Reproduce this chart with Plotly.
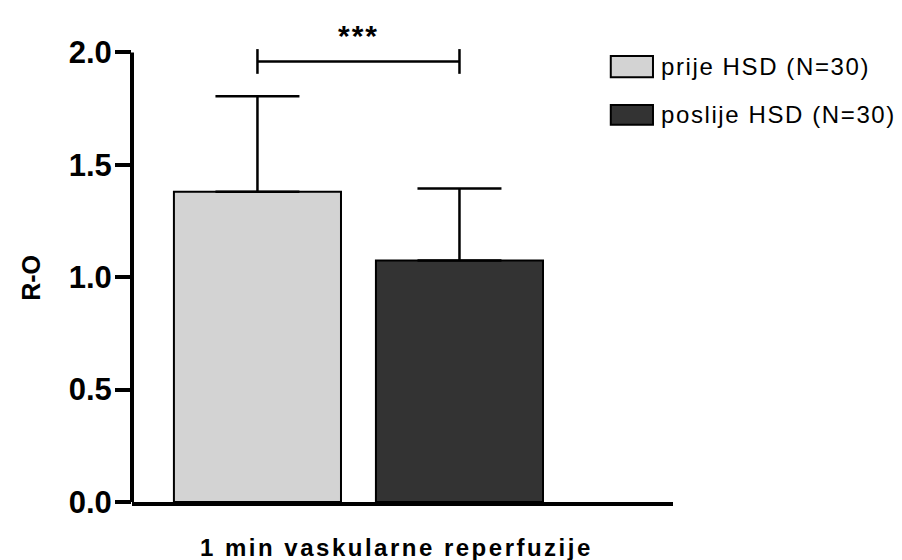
import plotly.graph_objects as go

# ---- data ----
groups = ["prije HSD (N=30)", "poslije HSD (N=30)"]
means = [1.38, 1.075]
sds = [0.425, 0.32]
colors = ["#d3d3d3", "#333333"]
x_label = "1 min vaskularne reperfuzije"
y_label = "R-O"
y_ticks = [0.0, 0.5, 1.0, 1.5, 2.0]
y_ticktext = ["0.0", "0.5", "1.0", "1.5", "2.0"]
sig_text = "***"
sig_y = 1.96

FONT = "Liberation Sans, Arial, sans-serif"
positions = list(range(len(groups)))

fig = go.Figure()
for i, (g, m, s, c) in enumerate(zip(groups, means, sds, colors)):
    fig.add_trace(go.Bar(
        x=[positions[i]], y=[m], name=g, width=0.827,
        marker=dict(color=c, line=dict(color="black", width=2)),
        error_y=dict(type="data", array=[s], arrayminus=[0], symmetric=False,
                     thickness=2.5, width=42, color="black"),
        showlegend=False,
    ))

# y axis line from 0 to top tick
fig.add_shape(type="line", xref="paper", yref="y", x0=0, x1=0, y0=0, y1=max(y_ticks),
              line=dict(color="black", width=4))

# significance bracket between the two bars
br = 0.055
fig.add_shape(type="line", xref="x", yref="y", x0=positions[0], x1=positions[1], y0=sig_y, y1=sig_y,
              line=dict(color="black", width=2.5))
for p in positions:
    fig.add_shape(type="line", xref="x", yref="y", x0=p, x1=p, y0=sig_y - br, y1=sig_y + br,
                  line=dict(color="black", width=2.5))
fig.add_annotation(x=(positions[0] + positions[1]) / 2, y=2.075, xref="x", yref="y",
                   text='<b><span style="letter-spacing:2px">' + sig_text + "</span></b>",
                   showarrow=False, xanchor="center", yanchor="middle",
                   font=dict(family=FONT, size=30, color="black"))

# custom legend
leg_rows = [(0.900, 0.945), (0.799, 0.841)]
for (y0, y1), g, c in zip(leg_rows, groups, colors):
    fig.add_shape(type="rect", xref="paper", yref="paper", x0=0.885, x1=0.963, y0=y0, y1=y1,
                  fillcolor=c, line=dict(color="black", width=2))
    fig.add_annotation(x=0.974, y=(y0 + y1) / 2, xref="paper", yref="paper", xanchor="left",
                       yanchor="middle", showarrow=False,
                       text='<span style="letter-spacing:1.6px">' + g + "</span>",
                       font=dict(family=FONT, size=24, color="black"))

# axis titles
fig.add_annotation(x=-0.187, y=(494 - 270) / 472, xref="paper", yref="paper", textangle=-90,
                   text="<b>" + y_label + "</b>", showarrow=False,
                   xanchor="center", yanchor="middle",
                   font=dict(family=FONT, size=25, color="black"))
fig.add_annotation(x=0.488, y=-0.097, xref="paper", yref="paper",
                   text='<b><span style="letter-spacing:2.5px">' + x_label + "</span></b>",
                   showarrow=False, xanchor="center", yanchor="middle",
                   font=dict(family=FONT, size=24, color="black"))

fig.update_layout(
    width=902, height=560,
    margin=dict(l=124, r=237, t=22, b=66),
    plot_bgcolor="white", paper_bgcolor="white",
    showlegend=False,
    xaxis=dict(range=[-0.621, 2.057], showticklabels=False, ticks="", showgrid=False,
               zeroline=False, showline=True, linecolor="black", linewidth=4),
    yaxis=dict(range=[0, 2.1], tickvals=y_ticks, ticktext=y_ticktext, ticks="outside",
               ticklen=16, tickwidth=3.5, tickcolor="black", showgrid=False, zeroline=False,
               showline=False, ticklabelstandoff=-3,
               tickfont=dict(family=FONT, size=31, color="black", weight="bold")),
)

fig.write_html("out.html")
